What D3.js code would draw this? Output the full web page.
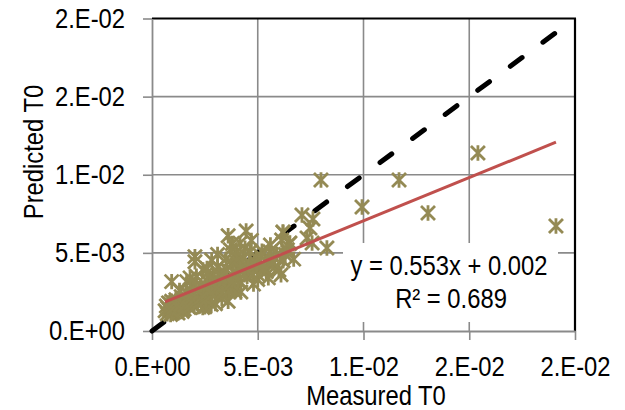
<!DOCTYPE html>
<html>
<head>
<meta charset="utf-8">
<script src="https://cdn.jsdelivr.net/npm/d3@7"></script>
<style>
  html, body { margin: 0; padding: 0; background: #fff; }
  svg { display: block; }
  text { font-family: "Liberation Sans", Arial, sans-serif; fill: #000; }
</style>
</head>
<body>
<svg id="chart" width="625" height="410"></svg>
<script>
// Measured vs predicted T0
const measured = [
  0.00062, 0.00068, 0.00072, 0.00078, 0.00083, 0.00088, 0.00093, 0.00098, 0.00103, 0.00108,
  0.00113, 0.00118, 0.00123, 0.00128, 0.00133, 0.00138, 0.00143, 0.00148, 0.00152, 0.00093,
  0.00164, 0.00160, 0.00170, 0.00180, 0.00190, 0.00200, 0.00203, 0.00203, 0.00210, 0.00220,
  0.00220, 0.00230, 0.00240, 0.00241, 0.00240, 0.00250, 0.00250, 0.00260, 0.00260, 0.00270,
  0.00280, 0.00282, 0.00280, 0.00290, 0.00300, 0.00300, 0.00300, 0.00310, 0.00320, 0.00330,
  0.00330, 0.00340, 0.00350, 0.00350, 0.00360, 0.00360, 0.00370, 0.00380, 0.00380, 0.00390,
  0.00392, 0.00400, 0.00400, 0.00410, 0.00416, 0.00420, 0.00420, 0.00430, 0.00430, 0.00445,
  0.00440, 0.00450, 0.00460, 0.00470, 0.00480, 0.00480, 0.00490, 0.00500, 0.00503, 0.00510,
  0.00520, 0.00540, 0.00542, 0.00550, 0.00550, 0.00558, 0.00560, 0.00580, 0.00590, 0.00600,
  0.00610, 0.00613, 0.00619, 0.00620, 0.00620, 0.00640, 0.00650, 0.00652, 0.00670, 0.00709,
  0.00733, 0.00747, 0.00757, 0.00761, 0.00799, 0.00827, 0.00993, 0.01168, 0.01305, 0.01541,
  0.01910,
  0.00075, 0.00085, 0.00095, 0.00105, 0.00115, 0.00125, 0.00135, 0.00145, 0.00155, 0.00165,
  0.00175, 0.00185, 0.00195, 0.00205, 0.00215, 0.00225, 0.00235, 0.00245, 0.00255, 0.00265,
  0.00275, 0.00285, 0.00295, 0.00305, 0.00315, 0.00325, 0.00335, 0.00345, 0.00355, 0.00365,
  0.00375, 0.00385, 0.00395, 0.00405, 0.00415, 0.00435, 0.00455, 0.00465, 0.00475, 0.00495,
  0.00515, 0.00530, 0.00570, 0.00630, 0.00130, 0.00180, 0.00260, 0.00310, 0.00370
];
const predicted = [
  0.00130, 0.00160, 0.00110, 0.00180, 0.00135, 0.00105, 0.00190, 0.00145, 0.00120, 0.00165,
  0.00200, 0.00130, 0.00115, 0.00175, 0.00150, 0.00220, 0.00125, 0.00185, 0.00140, 0.00316,
  0.00316, 0.00250, 0.00180, 0.00220, 0.00300, 0.00160, 0.00476, 0.00443, 0.00350, 0.00200,
  0.00270, 0.00290, 0.00190, 0.00390, 0.00150, 0.00240, 0.00155, 0.00320, 0.00400, 0.00210,
  0.00280, 0.00454, 0.00170, 0.00360, 0.00240, 0.00300, 0.00175, 0.00410, 0.00260, 0.00340,
  0.00210, 0.00380, 0.00290, 0.00460, 0.00610, 0.00190, 0.00330, 0.00430, 0.00560, 0.00270,
  0.00252, 0.00360, 0.00500, 0.00460, 0.00561, 0.00310, 0.00250, 0.00400, 0.00467, 0.00640,
  0.00530, 0.00350, 0.00440, 0.00580, 0.00390, 0.00300, 0.00470, 0.00330, 0.00358, 0.00420,
  0.00510, 0.00380, 0.00390, 0.00460, 0.00340, 0.00507, 0.00550, 0.00410, 0.00490, 0.00390,
  0.00360, 0.00582, 0.00634, 0.00630, 0.00450, 0.00520, 0.00560, 0.00563, 0.00460, 0.00742,
  0.00595, 0.00659, 0.00563, 0.00717, 0.00966, 0.00531, 0.00794, 0.00966, 0.00755, 0.01139,
  0.00672,
  0.00145, 0.00175, 0.00125, 0.00155, 0.00190, 0.00145, 0.00170, 0.00135, 0.00165, 0.00205,
  0.00150, 0.00185, 0.00240, 0.00210, 0.00175, 0.00245, 0.00220, 0.00275, 0.00200, 0.00255,
  0.00300, 0.00235, 0.00330, 0.00275, 0.00360, 0.00300, 0.00245, 0.00330, 0.00390, 0.00260,
  0.00305, 0.00380, 0.00470, 0.00325, 0.00400, 0.00360, 0.00410, 0.00510, 0.00360, 0.00430,
  0.00480, 0.00400, 0.00440, 0.00490, 0.00260, 0.00340, 0.00370, 0.00490, 0.00520
];

// Linear trendline (least squares) and its fit statistic
const slope = 0.553;
const intercept = 0.00152;
const rSquared = 0.689;

// Axis ticks and their labels
const tickValues = [0, 0.005, 0.01, 0.015, 0.02];
const tickLabels = ["0.E+00", "5.E-03", "1.E-02", "2.E-02", "2.E-02"];

const xTitle = "Measured T0";
const yTitle = "Predicted T0";

const svg = d3.select("#chart");
const plot = { left: 152, right: 575, top: 18.5, bottom: 331 };

const x = d3.scaleLinear().domain([0, 0.02]).range([plot.left, plot.right]);
const y = d3.scaleLinear().domain([0, 0.02]).range([plot.bottom, plot.top]);

const gridColor = "#8a8a8a";
const fontSize = 28;
const narrow = 0.85;   // horizontal squeeze for a condensed face

// gridlines
const grid = svg.append("g");
grid.selectAll("line.v").data(tickValues.slice(1, -1)).join("line")
  .attr("x1", d => x(d)).attr("x2", d => x(d))
  .attr("y1", plot.top).attr("y2", plot.bottom)
  .attr("stroke", gridColor).attr("stroke-width", 1.6);
grid.selectAll("line.h").data(tickValues.slice(1, -1)).join("line")
  .attr("y1", d => y(d)).attr("y2", d => y(d))
  .attr("x1", plot.left).attr("x2", plot.right)
  .attr("stroke", gridColor).attr("stroke-width", 1.6);

// plot frame: top and right edges
svg.append("line").attr("x1", plot.left).attr("x2", plot.right + 1)
  .attr("y1", plot.top).attr("y2", plot.top)
  .attr("stroke", "#000").attr("stroke-width", 1.8);
svg.append("line").attr("x1", plot.right).attr("x2", plot.right)
  .attr("y1", plot.top).attr("y2", plot.bottom)
  .attr("stroke", "#000").attr("stroke-width", 2.2);

// axes
const xAxis = d3.axisBottom(x).tickValues(tickValues)
  .tickFormat((d, i) => tickLabels[i]).tickSize(9).tickSizeOuter(0).tickPadding(16);
const yAxis = d3.axisLeft(y).tickValues(tickValues)
  .tickFormat((d, i) => tickLabels[i]).tickSize(9).tickSizeOuter(0).tickPadding(18);

function styleAxis(g) {
  g.attr("font-family", null).attr("font-size", null);
  g.select(".domain").attr("stroke", gridColor).attr("stroke-width", 1.8);
  g.selectAll(".tick line").attr("stroke", gridColor).attr("stroke-width", 1.6);
  g.selectAll(".tick text").attr("font-size", fontSize).attr("fill", "#000")
    .attr("transform", `scale(${narrow},1)`);
}
svg.append("g").attr("transform", `translate(0,${plot.bottom})`).call(xAxis).call(styleAxis);
const yG = svg.append("g").attr("transform", `translate(${plot.left},0)`).call(yAxis).call(styleAxis);
yG.selectAll(".tick text").attr("x", -27 / narrow);

function label(parent, tx, ty, str, extra = "") {
  return parent.append("text")
    .attr("transform", `translate(${tx},${ty}) ${extra} scale(${narrow},1)`)
    .attr("text-anchor", "middle").attr("font-size", fontSize).text(str);
}

// axis titles
label(svg, 376, 405, xTitle);
label(svg, 43, 152, yTitle, "rotate(-90)");

// 1:1 reference line
svg.append("line")
  .attr("x1", x(0)).attr("y1", y(0)).attr("x2", x(0.02)).attr("y2", y(0.02))
  .attr("stroke", "#000").attr("stroke-width", 5)
  .attr("stroke-linecap", "round").attr("stroke-dasharray", "14.6,25.9");

// star marker: diagonal cross plus a vertical bar
const starType = {
  draw(context, size) {
    const r = Math.sqrt(size) / 2;
    const v = r * 1.1;
    context.moveTo(-r, -r); context.lineTo(r, r);
    context.moveTo(-r, r); context.lineTo(r, -r);
    context.moveTo(0, -v); context.lineTo(0, v);
  }
};
const star = d3.symbol().type(starType).size(14 * 14);

const points = measured.map((m, i) => ({ m, p: predicted[i] }));
svg.append("g").selectAll("path").data(points).join("path")
  .attr("transform", d => `translate(${x(d.m)},${y(d.p)})`)
  .attr("d", star)
  .attr("fill", "none").attr("stroke", "#948A54").attr("stroke-width", 2.8);

// fitted trendline over the measured range
const [xmin, xmax] = d3.extent(measured);
svg.append("line")
  .attr("x1", x(xmin)).attr("y1", y(slope * xmin + intercept))
  .attr("x2", x(xmax)).attr("y2", y(slope * xmax + intercept))
  .attr("stroke", "#C0504D").attr("stroke-width", 3);

// equation label
const f3 = d3.format(".3f");
const eq = svg.append("g");
eq.append("rect").attr("x", 343).attr("y", 243).attr("width", 215).attr("height", 79)
  .attr("fill", "#fff");
label(eq, 449, 275, `y = ${f3(slope)}x + ${f3(intercept)}`);
label(eq, 451, 308, `R² = ${f3(rSquared)}`);
</script>
</body>
</html>
